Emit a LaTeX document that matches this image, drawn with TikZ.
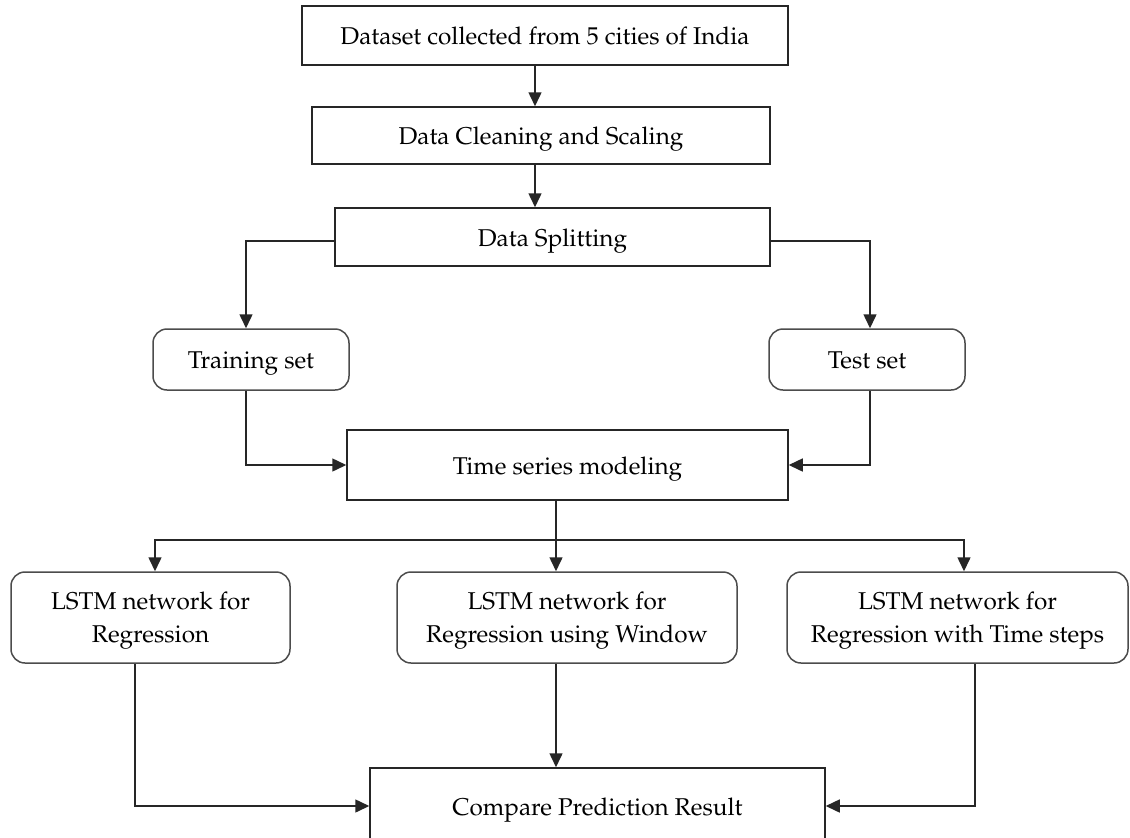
\documentclass[tikz,border=0pt]{standalone}
\usepackage[T1]{fontenc}
\usepackage{mathpazo}
\usetikzlibrary{arrows.meta}
\newcommand{\lowstrut}{\rule{0pt}{23pt}}
\tikzset{
  every node/.style={font=\fontsize{24.3}{33}\selectfont, align=center, inner sep=0pt},
  oneline/.style={text height=23pt, text depth=5pt},
  sqbox/.style={draw=black!85, line width=1.5pt, rectangle},
  rbox/.style={draw=black!70, line width=1.5pt, rectangle, rounded corners=14pt},
  arr/.style={line width=1.5pt, draw=black!85, -{Triangle[length=14pt,width=13pt]}},
  ln/.style={line width=1.5pt, draw=black!85}
}
\begin{document}
\begin{tikzpicture}[x=1pt,y=-1pt]
\useasboundingbox (0,0) rectangle (1130,838);
\clip (0,0) rectangle (1130,838);
\fill[white] (0,0) rectangle (1130,838);
\node[sqbox, oneline, minimum width=486pt, minimum height=59pt] (d1) at (545,35.5) {Dataset collected from 5 cities of India};
\node[sqbox, oneline, minimum width=458pt, minimum height=57pt] (d2) at (541,135.5) {Data Cleaning and Scaling};
\node[sqbox, oneline, minimum width=435pt, minimum height=58pt] (d3) at (552.5,237) {Data Splitting};
\node[rbox, oneline, minimum width=196pt, minimum height=61pt] (tr) at (251,359.5) {Training set};
\node[rbox, oneline, minimum width=196pt, minimum height=61pt] (te) at (867,359.5) {Test set};
\node[sqbox, oneline, minimum width=441pt, minimum height=70pt] (ts) at (567.5,465) {Time series modeling};
\node[rbox, minimum width=279pt, minimum height=91pt] (l1) at (150.5,617.5) {\lowstrut LSTM network for\\Regression};
\node[rbox, minimum width=340pt, minimum height=91pt] (l2) at (567,617.5) {\lowstrut LSTM network for\\Regression using Window};
\node[rbox, minimum width=341pt, minimum height=91pt] (l3) at (957.5,617.5) {\lowstrut LSTM network for\\Regression with Time steps};
\node[sqbox, oneline, minimum width=455pt, minimum height=76pt] (cp) at (597.5,806) {Compare Prediction Result};

\coordinate (ax) at (535,0);
\draw[arr] (ax |- d1.south) -- (ax |- d2.north);
\draw[arr] (ax |- d2.south) -- (ax |- d3.north);
\draw[arr] ([yshift=-4pt]d3.west) -| ([xshift=-5pt]tr.north);
\draw[arr] ([yshift=-4pt]d3.east) -| ([xshift=3pt]te.north);
\draw[arr] ([xshift=-5pt]tr.south) |- (ts.west);
\draw[arr] ([xshift=3pt]te.south) |- (ts.east);

\coordinate (br) at (556,540);
\draw[ln] (ts.south -| br) -- (br);
\draw[arr] (br) -| ([xshift=4.5pt]l1.north);
\draw[arr] (br) -| ([xshift=6.5pt]l3.north);
\draw[arr] (br) -- (br |- l2.north);

\draw[arr] ([xshift=-15.5pt]l1.south) |- (cp.west);
\draw[arr] (l2.south -| br) -- (cp.north -| br);
\draw[arr] ([xshift=17.5pt]l3.south) |- (cp.east);
\end{tikzpicture}
\end{document}
